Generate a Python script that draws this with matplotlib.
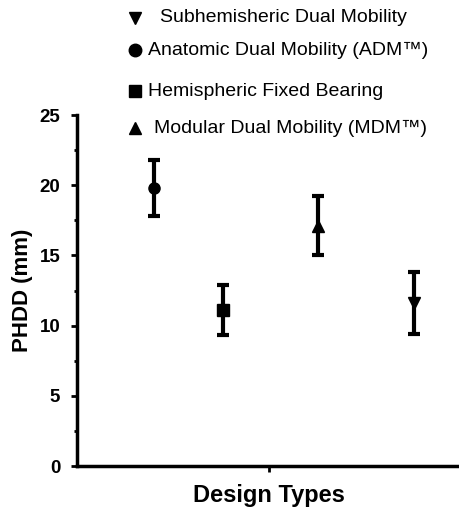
import matplotlib
matplotlib.use("Agg")
import matplotlib.pyplot as plt
from matplotlib.lines import Line2D
from matplotlib.ticker import MultipleLocator

plt.rcParams["font.family"] = ["Liberation Sans", "DejaVu Sans"]

# --- data ---
designs = ["Anatomic Dual Mobility (ADM\u2122)", "Hemispheric Fixed Bearing",
           "Modular Dual Mobility (MDM\u2122)", "Subhemisheric Dual Mobility"]
x_pos = [1.0, 1.9, 3.15, 4.4]
phdd_mean = [19.8, 11.1, 17.1, 11.6]
phdd_sd = [2.0, 1.8, 2.1, 2.2]
markers = ["o", "s", "^", "v"]

# legend rows as drawn in the figure (top to bottom), pixel layout
legend_order = [3, 0, 1, 2]
legend_y_px = [18, 50, 91, 128]
legend_text_x_px = [160, 148, 148, 154]
legend_marker_x_px = 135

W, H = 460, 511
fig = plt.figure(figsize=(W / 100, H / 100), dpi=100)
ax = fig.add_axes([77 / W, 45 / H, 383 / W, 351 / H])

for x, m, s, mk in zip(x_pos, phdd_mean, phdd_sd, markers):
    ax.errorbar(x, m, yerr=s, fmt=mk, color="black", ms=8, elinewidth=3,
                capsize=4.3, capthick=3)

ax.set_xlim(0, 5)
ax.set_ylim(0, 25)
ax.set_xticks([2.5])
ax.set_xticklabels([""])
ax.yaxis.set_major_locator(MultipleLocator(5))
ax.yaxis.set_minor_locator(MultipleLocator(2.5))
ax.tick_params(axis="y", which="major", length=4, width=2, labelsize=13.5, pad=8)
ax.tick_params(axis="y", which="minor", length=2.5, width=2)
ax.tick_params(axis="x", length=4, width=2)
for lab in ax.get_yticklabels():
    lab.set_fontweight("bold")
for side in ["top", "right"]:
    ax.spines[side].set_visible(False)
for side in ["left", "bottom"]:
    ax.spines[side].set_linewidth(2.5)

ax.set_ylabel("PHDD (mm)", fontsize=16, fontweight="bold")
ax.yaxis.set_label_coords(-0.115, 0.5)
ax.set_xlabel("Design Types", fontsize=17, fontweight="bold")
ax.xaxis.set_label_coords(0.5, -0.05)

for row, idx in enumerate(legend_order):
    fy = 1 - legend_y_px[row] / H
    fig.add_artist(Line2D([legend_marker_x_px / W], [fy], marker=markers[idx],
                          color="black", ls="none", ms=9,
                          transform=fig.transFigure))
    fig.text(legend_text_x_px[row] / W, fy, designs[idx], fontsize=14,
             va="center", ha="left")

fig.savefig("out.png", dpi=100)
